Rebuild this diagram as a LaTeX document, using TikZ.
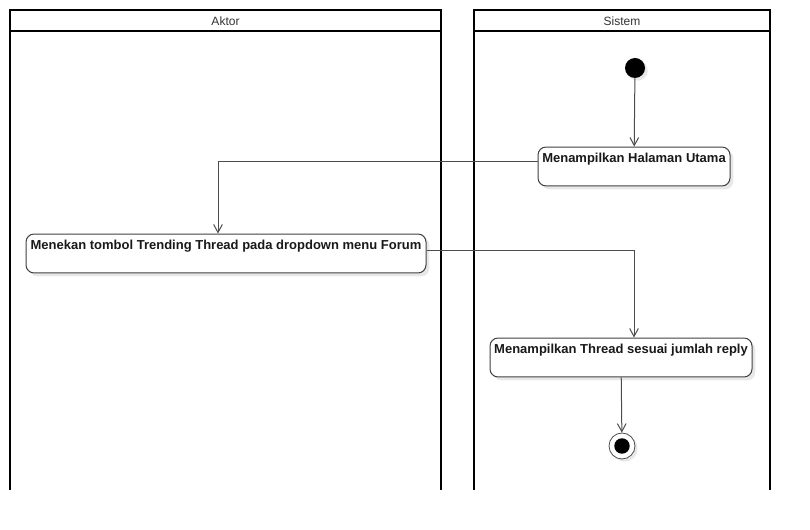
\documentclass[tikz,border=0pt]{standalone}
\usepackage{fontspec}
\setmainfont{Liberation Sans}
\usetikzlibrary{positioning,arrows.meta,shadows}

\begin{document}
\begin{tikzpicture}[
  x=0.75pt, y=-0.75pt,
  font=\fontsize{9}{11}\selectfont,
  >={Straight Barb[length=6pt,width=6.5pt]},
  lane/.style={draw=black, line width=1.5pt},
  lanehead/.style={text=black!80, inner sep=1pt},
  action/.style={draw=black!75, rounded corners=6pt, fill=white, line width=0.75pt,
    inner xsep=3pt, inner ysep=2pt, text height=9.4pt, text depth=15.8pt, text=black!90,
    font=\bfseries\fontsize{9.75}{12}\selectfont,
    drop shadow={shadow xshift=2.5pt, shadow yshift=-2.5pt, fill=black!9, opacity=1}},
  startnode/.style={circle, fill=black, minimum size=15pt, inner sep=0pt,
    drop shadow={shadow xshift=2pt, shadow yshift=-2pt, fill=black!9, opacity=1}},
  endnode/.style={circle, draw=black!70, fill=white, line width=0.6pt, minimum size=19.5pt, inner sep=0pt,
    path picture={\fill[black] (path picture bounding box.center) circle (5.8pt);},
    drop shadow={shadow xshift=2pt, shadow yshift=-2pt, fill=black!9, opacity=1}},
  flow/.style={->, draw=black!70, line width=0.75pt}
]
  \useasboundingbox (0,0) rectangle (810,530);

  % swimlanes
  \draw[lane] (10,490) -- (10,10) -- (441,10) -- (441,490);
  \draw[lane] (10,31) -- (441,31);
  \draw[lane] (474,490) -- (474,10) -- (770,10) -- (770,490);
  \draw[lane] (474,31) -- (770,31);
  \node[lanehead] (aktorhead) at (225.5,21) {Aktor};
  \node[lanehead] (sistemhead) at (622,21) {Sistem};

  % activities
  \node[startnode] (start) at (635,68) {};
  \node[action, minimum width=144pt] (halaman) at (634,166.5) {Menampilkan Halaman Utama};
  \node[action, minimum width=300pt] (menekan) at (226,253.5) {Menekan tombol Trending Thread pada dropdown menu Forum};
  \node[action, minimum width=196.5pt] (thread) at (621,357.5) {Menampilkan Thread sesuai jumlah reply};
  \node[endnode] (end) at (622,446) {};

  \draw[flow] (start) -- (halaman);
  \draw[flow] ([yshift=3.4pt]halaman.west) -| ([xshift=-6pt]menekan.north);
  \draw[flow] ([yshift=2.6pt]menekan.east) -| ([xshift=9.75pt]thread.north);
  \draw[flow] (thread) -- (end);
\end{tikzpicture}
\end{document}
